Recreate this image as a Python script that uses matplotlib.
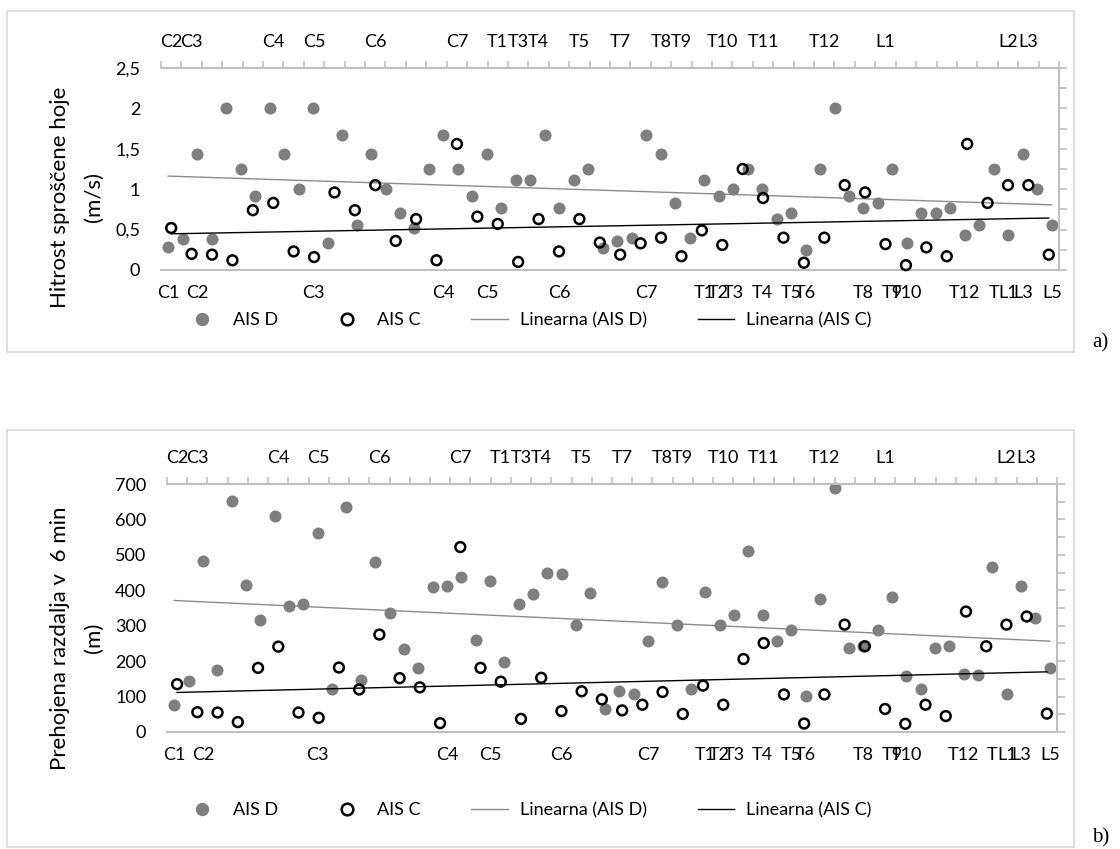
import numpy as np
import matplotlib
matplotlib.use("Agg")
import matplotlib.pyplot as plt
from matplotlib.patches import Rectangle
from matplotlib.lines import Line2D
from matplotlib.ticker import FuncFormatter

plt.rcParams['font.family'] = ['Lato', 'DejaVu Sans']

# labels of the AIS D categories (bottom axis), 62 categories
d_pos = [0, 2, 10, 19, 22, 27, 33, 37, 38, 39, 41, 43, 44, 48, 50, 51, 55, 57, 58, 59, 61]
d_txt = ["C1", "C2", "C3", "C4", "C5", "C6", "C7", "T1", "T2", "T3", "T4", "T5", "T6",
         "T8", "T9", "T10", "T12", "T", "L1", "L3", "L5"]
# labels of the AIS C categories (top axis), 44 categories
c_pos = [0, 1, 5, 7, 10, 14, 16, 17, 18, 20, 22, 24, 25, 27, 29, 32, 35, 41, 42]
c_txt = ["C2", "C3", "C4", "C5", "C6", "C7", "T1", "T3", "T4", "T5", "T7", "T8", "T9",
         "T10", "T11", "T12", "L1", "L2", "L3"]

hitrost_d = [0.29, 0.38, 1.43, 0.38, 2.0, 1.25, 0.91, 2.0, 1.43, 1.0, 2.0, 0.34, 1.67, 0.56,
             1.43, 1.0, 0.71, 0.52, 1.25, 1.67, 1.25, 0.91, 1.43, 0.77, 1.11, 1.11, 1.67,
             0.77, 1.11, 1.25, 0.27, 0.36, 0.40, 1.67, 1.43, 0.83, 0.40, 1.11, 0.91, 1.0,
             1.25, 1.0, 0.63, 0.71, 0.25, 1.25, 2.0, 0.91, 0.77, 0.83, 1.25, 0.33, 0.71,
             0.71, 0.77, 0.43, 0.56, 1.25, 0.43, 1.43, 1.0, 0.56]
hitrost_c = [0.52, 0.20, 0.19, 0.12, 0.74, 0.83, 0.23, 0.16, 0.96, 0.74, 1.05, 0.36, 0.63,
             0.12, 1.56, 0.66, 0.57, 0.10, 0.63, 0.23, 0.63, 0.34, 0.19, 0.33, 0.40, 0.17,
             0.49, 0.31, 1.25, 0.89, 0.40, 0.09, 0.40, 1.05, 0.96, 0.32, 0.06, 0.28, 0.17,
             1.56, 0.83, 1.05, 1.05, 0.19]
razdalja_d = [77, 145, 484, 175, 651, 416, 316, 611, 356, 362, 561, 121, 636, 147, 481, 336,
              234, 181, 408, 412, 437, 261, 427, 197, 361, 389, 450, 446, 302, 393, 64, 116,
              106, 256, 423, 302, 120, 396, 302, 331, 511, 329, 256, 287, 102, 376, 690, 236,
              242, 287, 381, 157, 120, 236, 242, 165, 162, 467, 106, 412, 321, 182]
razdalja_c = [135, 56, 55, 28, 181, 241, 55, 40, 182, 120, 275, 152, 126, 25, 522, 181, 142,
              37, 153, 59, 115, 92, 61, 77, 113, 51, 131, 77, 206, 251, 106, 24, 106, 303,
              242, 65, 23, 77, 45, 340, 242, 303, 326, 52]

GRAY = "#7f7f7f"
AXC = "#bfbfbf"
W, H = 1120, 849

fig = plt.figure(figsize=(W / 100, H / 100), dpi=100)


def box(x0, y0, x1, y1):
    # pixel box (top-left origin) -> figure fraction rect
    return [x0 / W, 1 - y1 / H, (x1 - x0) / W, (y1 - y0) / H]


def panel(area, frame, yd, yc, ymax, ystep, rstep, ylab1, ylab2, ylab_y, leg_y, tag):
    fx0, fy0, fx1, fy1 = frame
    fig.patches.append(Rectangle((fx0 / W, 1 - fy1 / H), (fx1 - fx0) / W, (fy1 - fy0) / H,
                                 transform=fig.transFigure, fill=False,
                                 edgecolor="#d9d9d9", lw=1.2))

    ax = fig.add_axes(box(*area))
    xd = np.arange(len(yd))
    xc = np.arange(len(yc))

    ax.scatter(xd, yd, s=75, color=GRAY, linewidths=0, zorder=3, clip_on=False)
    k, b = np.polyfit(xd, yd, 1)
    ends = np.array([xd[0], xd[-1]])
    ax.plot(ends, k * ends + b, color="#8c8c8c", lw=1.0, zorder=2)

    ax.set_xlim(-0.5, len(yd) - 0.5)
    ax.set_ylim(0, ymax)
    ax.set_yticks(np.arange(0, ymax + ystep / 2, ystep))
    ax.yaxis.set_major_formatter(FuncFormatter(lambda v, p: f"{v:g}".replace(".", ",")))
    ax.set_xticks(d_pos)
    ax.set_xticklabels(d_txt)
    ax.tick_params(axis="x", length=0, pad=11, labelsize=13)
    ax.tick_params(axis="y", length=0, pad=15, labelsize=13)
    for s in ["left", "top", "right"]:
        ax.spines[s].set_visible(False)
    ax.spines["bottom"].set_color(AXC)
    ax.spines["bottom"].set_linewidth(1.5)

    axc = ax.twiny()
    axc.scatter(xc, yc, s=50, facecolors="none", edgecolors="black", linewidths=1.8,
                zorder=4, clip_on=False)
    k2, b2 = np.polyfit(xc, yc, 1)
    ends2 = np.array([xc[0], xc[-1]])
    axc.plot(ends2, k2 * ends2 + b2, color="black", lw=1.0, zorder=2)
    axc.set_xlim(-0.5, len(yc) - 0.5)
    axc.set_xticks(np.arange(len(yc) + 1) - 0.5)
    axc.set_xticklabels([])
    axc.set_xticks(c_pos, minor=True)
    axc.set_xticklabels(c_txt, minor=True)
    axc.tick_params(axis="x", which="major", length=5, width=1.2, color=AXC, direction="out")
    axc.tick_params(axis="x", which="minor", length=0, pad=13, labelsize=13)
    for s in ["left", "bottom", "right"]:
        axc.spines[s].set_visible(False)
    axc.spines["top"].set_color(AXC)
    axc.spines["top"].set_linewidth(1.5)

    axr = ax.twinx()
    axr.set_ylim(0, ymax)
    axr.set_yticks(np.arange(0, ymax + rstep / 2, rstep))
    axr.set_yticklabels([])
    axr.tick_params(axis="y", length=6, width=1.2, color=AXC, direction="out")
    for s in ["left", "bottom", "top"]:
        axr.spines[s].set_visible(False)
    axr.spines["right"].set_color(AXC)
    axr.spines["right"].set_linewidth(1.5)

    fig.text(60 / W, 1 - ylab_y / H, ylab1, rotation=90, fontsize=16,
             ha="center", va="center")
    fig.text(94 / W, 1 - ylab_y / H, ylab2, rotation=90, fontsize=16,
             ha="center", va="center")

    handles = [
        Line2D([], [], ls="none", marker="o", ms=8.6, mfc=GRAY, mec=GRAY),
        Line2D([], [], ls="none", marker="o", ms=8.4, mfc="none", mec="black", mew=1.8),
        Line2D([], [], color="#8c8c8c", lw=1.0),
        Line2D([], [], color="black", lw=1.0),
    ]
    fig.legend(handles, ["AIS D", "AIS C", "Linearna (AIS D)", "Linearna (AIS C)"],
               loc="center", bbox_to_anchor=(528 / W, 1 - leg_y / H), ncol=4,
               frameon=False, fontsize=13, handlelength=2.0, handletextpad=0.7,
               columnspacing=2.8)

    fig.text(1092 / W, 1 - (fy1 - 9) / H, tag, fontsize=15, family="Liberation Serif",
             ha="left", va="center")


panel((161, 68, 1059, 270), (7, 11, 1074, 352), hitrost_d, hitrost_c, 2.5, 0.5, 0.25,
      "Hitrost sproščene hoje", "(m/s)", 197, 320, "a)")
panel((167, 484, 1057, 732), (7, 430, 1074, 847), razdalja_d, razdalja_c, 700, 100, 50,
      "Prehojena razdalja v  6 min", "(m)", 638, 810, "b)")

fig.savefig("out.png", dpi=100)
